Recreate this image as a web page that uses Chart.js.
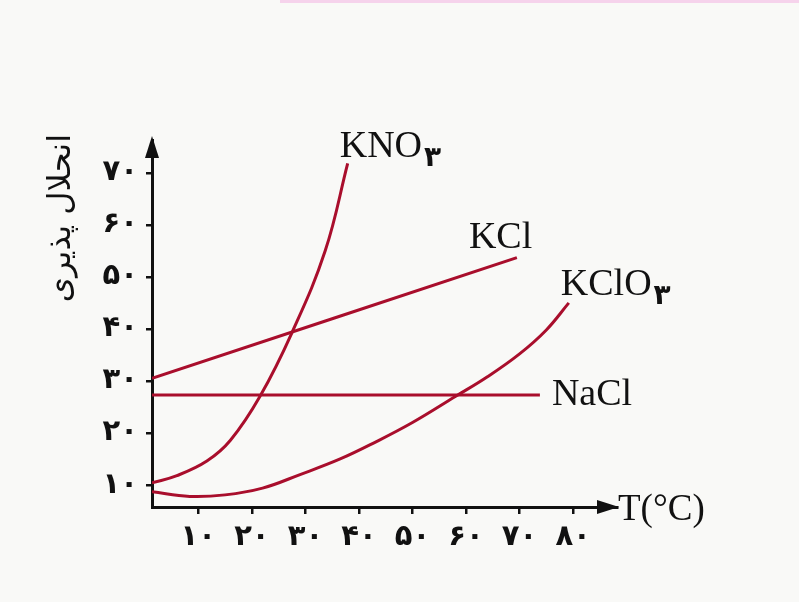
<!DOCTYPE html>
<html>
<head>
<meta charset="utf-8">
<script src="https://cdn.jsdelivr.net/npm/chart.js@4.4.1/dist/chart.umd.min.js"></script>
<style>
  html, body { margin: 0; padding: 0; background: #f9f9f7; }
  #wrap { position: relative; width: 799px; height: 602px; }
  #strip { position: absolute; left: 280px; top: 0; width: 519px; height: 3px; background: #f6d3ec; }
  canvas { position: absolute; left: 0; top: 0; }
</style>
</head>
<body>
<div id="wrap">
  <div id="strip"></div>
  <canvas id="solubility" width="799" height="602"></canvas>
</div>
<script>
// دما و انحلال پذیری هر ماده (خوانده شده از نمودار)
const kno3Temp = [1.35, 6, 11.6, 16, 21.5, 27.5, 33.7, 37.9];
const kno3Sol  = [10.4, 11.8, 14.6, 18.6, 27.0, 39.3, 55.0, 71.8];

const kclTemp = [1.35, 69.5];
const kclSol  = [30.5, 53.7];

const naclTemp = [1.35, 73.8];
const naclSol  = [27.3, 27.3];

const kclo3Temp = [1.35, 8.4, 15, 22, 29, 36.5, 43, 50, 58, 64, 70, 75, 79.2];
const kclo3Sol  = [8.7, 7.8, 8.1, 9.4, 12.0, 15.0, 18.2, 22.0, 27.0, 30.8, 35.2, 39.8, 45.0];

const xTicks = [10, 20, 30, 40, 50, 60, 70, 80];
const yTicks = [10, 20, 30, 40, 50, 60, 70];

const seriesNames = ['KNO', 'KCl', 'KClO', 'NaCl'];
const seriesSubs  = ['۳', '', '۳', ''];

const red = '#a90e2c';
const ink = '#111';

const faDigits = n => String(n).replace(/\d/g, d => '۰۱۲۳۴۵۶۷۸۹'[d]);
const pts = (t, s) => t.map((v, i) => ({ x: v, y: s[i] }));

function line(t, s) {
  return {
    data: pts(t, s),
    borderColor: red,
    borderWidth: 3,
    pointRadius: 0,
    fill: false,
    tension: 0.4
  };
}

// نوشته ها و پیکان ها
const extras = {
  id: 'extras',
  afterDraw(chart) {
    const { ctx, chartArea: a, scales: { x, y } } = chart;
    ctx.save();

    // پیکان محورها
    ctx.fillStyle = ink;
    ctx.beginPath();
    ctx.moveTo(a.left, a.top - 4);
    ctx.lineTo(a.left - 7, a.top + 18);
    ctx.lineTo(a.left + 7, a.top + 18);
    ctx.closePath();
    ctx.fill();
    ctx.beginPath();
    ctx.moveTo(a.right + 2, a.bottom);
    ctx.lineTo(a.right - 20, a.bottom - 7);
    ctx.lineTo(a.right - 20, a.bottom + 7);
    ctx.closePath();
    ctx.fill();

    // برچسب منحنی ها کنار انتهای هر منحنی
    const ends = [
      [kno3Temp, kno3Sol, -8, -6],
      [kclTemp, kclSol, -48, -10],
      [kclo3Temp, kclo3Sol, -8, -8],
      [naclTemp, naclSol, 12, 10]
    ];
    ctx.textAlign = 'left';
    ctx.textBaseline = 'alphabetic';
    ends.forEach(([t, s, dx, dy], i) => {
      const px = x.getPixelForValue(t[t.length - 1]) + dx;
      const py = y.getPixelForValue(s[s.length - 1]) + dy;
      ctx.font = '38px "Liberation Serif"';
      ctx.fillText(seriesNames[i], px, py);
      if (seriesSubs[i]) {
        const w = ctx.measureText(seriesNames[i]).width;
        ctx.font = 'bold 28px "DejaVu Sans"';
        ctx.fillText(seriesSubs[i], px + w + 2, py + 9);
      }
    });

    // عنوان محور افقی
    ctx.font = '37px "Liberation Serif"';
    ctx.fillText('T(°C)', a.right + 1, a.bottom + 13);

    // عنوان محور عمودی
    ctx.translate(62, a.top + 78);
    ctx.rotate(-Math.PI / 2);
    ctx.textAlign = 'center';
    ctx.textBaseline = 'middle';
    ctx.font = '32px "DejaVu Sans"';
    ctx.fillText('انحلال پذیری', 0, 0);
    ctx.restore();
  }
};

new Chart(document.getElementById('solubility'), {
  type: 'line',
  data: {
    datasets: [
      line(kno3Temp, kno3Sol),
      line(kclTemp, kclSol),
      line(kclo3Temp, kclo3Sol),
      line(naclTemp, naclSol)
    ]
  },
  options: {
    responsive: false,
    animation: false,
    layout: { padding: { top: 140, right: 182, left: 0, bottom: 0 } },
    plugins: { legend: { display: false }, tooltip: { enabled: false } },
    scales: {
      x: {
        type: 'linear',
        min: 1.35,
        max: 88.2,
        afterBuildTicks: s => { s.ticks = xTicks.map(v => ({ value: v })); },
        afterFit: s => { s.height = 95; },
        border: { display: true, color: ink, width: 3 },
        grid: { drawOnChartArea: false, drawTicks: true, tickLength: 7, color: ink, lineWidth: 2.5 },
        ticks: {
          padding: 6,
          color: ink,
          font: { family: 'DejaVu Sans', size: 29, weight: 'bold' },
          maxRotation: 0,
          callback: v => faDigits(v)
        }
      },
      y: {
        type: 'linear',
        min: 5.77,
        max: 76.3,
        afterBuildTicks: s => { s.ticks = yTicks.map(v => ({ value: v })); },
        afterFit: s => { s.width = 152; },
        border: { display: true, color: ink, width: 3 },
        grid: { drawOnChartArea: false, drawTicks: true, tickLength: 6, color: ink, lineWidth: 2.5 },
        ticks: {
          padding: 8,
          color: ink,
          font: { family: 'DejaVu Sans', size: 29, weight: 'bold' },
          callback: v => faDigits(v)
        }
      }
    }
  },
  plugins: [extras]
});
</script>
</body>
</html>
